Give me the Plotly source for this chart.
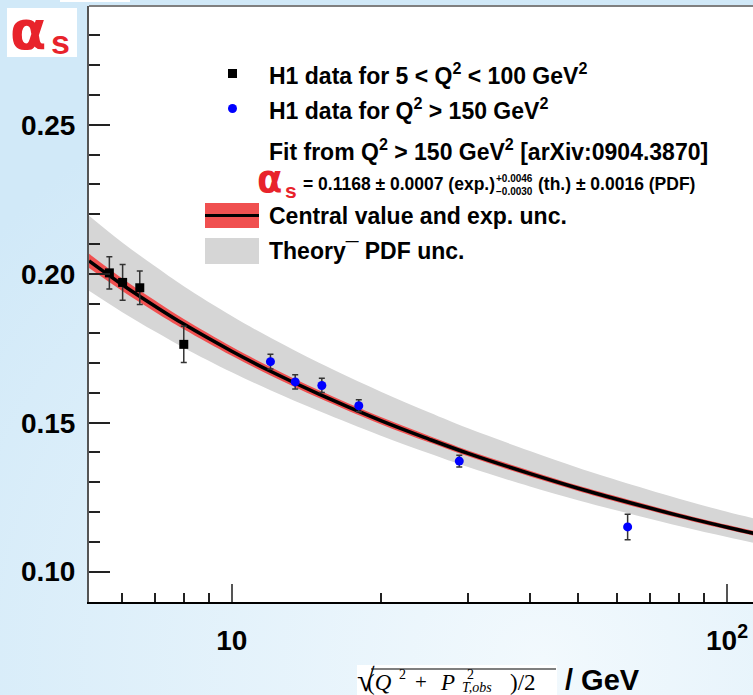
import base64
import plotly.graph_objects as go

# H1 data, 5 < Q^2 < 100 GeV^2
q_low = [5.66, 6.02, 6.52, 8.0]
as_low = [0.2003, 0.1971, 0.1953, 0.1763]
err_low = [0.0054, 0.0060, 0.0056, 0.0061]

# H1 data, Q^2 > 150 GeV^2
q_high = [11.97, 13.43, 15.2, 18.05, 28.8, 63.0]
as_high = [0.1705, 0.1637, 0.1625, 0.1557, 0.1371, 0.1150]
err_high = [0.0025, 0.0024, 0.0024, 0.0020, 0.0020, 0.0043]

# running alpha_s from the Q^2 > 150 GeV^2 fit, with uncertainty bands
q_fit = [5.15, 6, 7, 8, 10, 12, 15, 20, 25, 30, 40, 50, 60, 80, 100, 113]
as_fit = [0.2043, 0.1964, 0.1891, 0.1831, 0.1740, 0.1672, 0.1596, 0.1507,
          0.1445, 0.1397, 0.1329, 0.1280, 0.1243, 0.1188, 0.1149, 0.1129]
exp_up = [0.2067, 0.1985, 0.1910, 0.1848, 0.1755, 0.1686, 0.1609, 0.1519,
          0.1456, 0.1407, 0.1339, 0.1289, 0.1252, 0.1196, 0.1157, 0.1137]
exp_dn = [0.2019, 0.1943, 0.1872, 0.1814, 0.1725, 0.1658, 0.1583, 0.1495,
          0.1434, 0.1387, 0.1319, 0.1271, 0.1234, 0.1180, 0.1141, 0.1121]
th_up = [0.2195, 0.2106, 0.2025, 0.1958, 0.1858, 0.1784, 0.1701, 0.1604,
         0.1535, 0.1481, 0.1405, 0.1349, 0.1307, 0.1245, 0.1201, 0.1179]
th_dn = [0.1943, 0.1872, 0.1806, 0.1752, 0.1669, 0.1608, 0.1539, 0.1456,
         0.1397, 0.1351, 0.1286, 0.1240, 0.1205, 0.1153, 0.1116, 0.1097]

x_ticks = [10, 100]
x_ticktext = ["10", "10<sup>2</sup>"]
x_minor = [6, 7, 8, 9, 20, 30, 40, 50, 60, 70, 80, 90]
y_ticks = [0.10, 0.15, 0.20, 0.25]
y_ticktext = ["0.10", "0.15", "0.20", "0.25"]

W, H = 753, 695
L, R, T, B = 89, 0, 6, 93
PW, PH = W - L - R, H - T - B


def px(x):
    return (x - L) / PW


def py(y):
    return (H - B - y) / PH


SANS = "Liberation Sans, Arial, sans-serif"
SERIF = "Liberation Serif, Times New Roman, serif"
RED = "#e8232b"

fig = go.Figure()

fig.add_trace(go.Scatter(x=q_fit, y=th_up, mode="lines", line=dict(width=0, shape="spline"),
                         hoverinfo="skip", showlegend=False))
fig.add_trace(go.Scatter(x=q_fit, y=th_dn, mode="lines", line=dict(width=0, shape="spline"),
                         fill="tonexty", fillcolor="#d6d6d6", hoverinfo="skip", showlegend=False))
fig.add_trace(go.Scatter(x=q_fit, y=exp_up, mode="lines", line=dict(width=0, shape="spline"),
                         hoverinfo="skip", showlegend=False))
fig.add_trace(go.Scatter(x=q_fit, y=exp_dn, mode="lines", line=dict(width=0, shape="spline"),
                         fill="tonexty", fillcolor="#f05050", hoverinfo="skip", showlegend=False))
fig.add_trace(go.Scatter(x=q_fit, y=as_fit, mode="lines",
                         line=dict(color="black", width=3.5, shape="spline"), showlegend=False))

fig.add_trace(go.Scatter(
    x=q_low, y=as_low, mode="markers",
    marker=dict(symbol="square", size=9, color="black"),
    error_y=dict(type="data", array=err_low, color="#333333", thickness=1.5, width=3),
    showlegend=False))
fig.add_trace(go.Scatter(
    x=q_high, y=as_high, mode="markers",
    marker=dict(symbol="circle", size=9, color="#0000ff"),
    error_y=dict(type="data", array=err_high, color="#333333", thickness=1.5, width=3),
    showlegend=False))

# page background
svg = (
    '<svg xmlns="http://www.w3.org/2000/svg" width="753" height="695">'
    '<defs><radialGradient id="g" cx="0.72" cy="0.95" r="0.95">'
    '<stop offset="0" stop-color="#f2f9fd"/><stop offset="1" stop-color="#d1e9f8"/>'
    '</radialGradient></defs><rect width="753" height="695" fill="url(#g)"/></svg>'
)
bg_src = "data:image/svg+xml;base64," + base64.b64encode(svg.encode()).decode()
fig.add_layout_image(dict(source=bg_src, xref="paper", yref="paper",
                          x=px(0), y=py(0), sizex=W / PW, sizey=H / PH,
                          xanchor="left", yanchor="top", sizing="stretch", layer="below"))

shapes = []
# white plotting area
shapes.append(dict(type="rect", xref="paper", yref="paper", x0=0, x1=1, y0=0, y1=1,
                   fillcolor="white", line=dict(width=0), layer="below"))
# frame top edge
shapes.append(dict(type="line", xref="paper", yref="paper", x0=0, x1=1, y0=1, y1=1,
                   line=dict(color="#808080", width=2)))
# small white strip at the top
shapes.append(dict(type="rect", xref="paper", yref="paper", x0=px(60), x1=px(130),
                   y0=py(2), y1=py(0), fillcolor="white", line=dict(width=0)))
# alpha_s title box
shapes.append(dict(type="rect", xref="paper", yref="paper", x0=px(7), x1=px(77),
                   y0=py(57), y1=py(8), fillcolor="white", line=dict(width=0)))
# x-title formula box
shapes.append(dict(type="rect", xref="paper", yref="paper", x0=px(357), x1=px(557),
                   y0=py(695), y1=py(665), fillcolor="white", line=dict(width=0)))
# square-root bar
shapes.append(dict(type="line", xref="paper", yref="paper", x0=px(371), x1=px(556),
                   y0=py(669), y1=py(669), line=dict(color="black", width=1.2)))

# legend symbols
shapes.append(dict(type="rect", xref="paper", yref="paper", x0=px(228), x1=px(237),
                   y0=py(78), y1=py(69), fillcolor="black", line=dict(width=0)))
shapes.append(dict(type="circle", xref="paper", yref="paper", x0=px(228), x1=px(237),
                   y0=py(113), y1=py(104), fillcolor="#0000ff", line=dict(width=0)))
shapes.append(dict(type="rect", xref="paper", yref="paper", x0=px(205), x1=px(259),
                   y0=py(228), y1=py(203), fillcolor="#f05050", line=dict(width=0)))
shapes.append(dict(type="line", xref="paper", yref="paper", x0=px(205), x1=px(259),
                   y0=py(215.5), y1=py(215.5), line=dict(color="black", width=3)))
shapes.append(dict(type="rect", xref="paper", yref="paper", x0=px(205), x1=px(259),
                   y0=py(264), y1=py(238), fillcolor="#d6d6d6", line=dict(width=0)))

ann = []


def text(x, y, s, size, color="black", family=SANS, bold=True, xanchor="left"):
    ann.append(dict(x=px(x), y=py(y), xref="paper", yref="paper", text=s, showarrow=False,
                    xanchor=xanchor, yanchor="middle", borderpad=0,
                    font=dict(family=family, size=size, color=color,
                              weight="bold" if bold else "normal")))


LEG = 23
text(268, 74, "H1 data for 5 &lt; Q<sup>2</sup> &lt; 100 GeV<sup>2</sup>", LEG)
text(268, 109, "H1 data for Q<sup>2</sup> &gt; 150 GeV<sup>2</sup>", LEG)
text(268, 150, "Fit from Q<sup>2</sup> &gt; 150 GeV<sup>2</sup> [arXiv:0904.3870]", LEG)
text(256, 180, "α", 37, RED, family="DejaVu Sans")
text(284, 190, "s", 21, RED)
text(302, 184, "= 0.1168 ± 0.0007 (exp.)", 17.5)
text(514, 178, "+0.0046", 10, xanchor="center")
text(514, 191, "−0.0030", 10, xanchor="center")
text(537, 184, "(th.) ± 0.0016 (PDF)", 17.5)
text(268, 216, "Central value and exp. unc.", LEG)
text(268, 251, "Theory¯ PDF unc.", LEG)

# y-axis title
text(9, 30, "α", 53, RED, family="DejaVu Sans")
text(50, 42, "s", 34, RED)

# x-axis title
text(356, 680, "√", 32, family=SERIF, bold=False)
text(366, 682, "(<i>Q</i>", 23, family=SERIF, bold=False)
text(402, 674, "2", 14, family=SERIF, bold=False, xanchor="center")
text(421, 682, "+", 21, family=SERIF, bold=False, xanchor="center")
text(439, 682, "<i>P</i>", 23, family=SERIF, bold=False)
text(470, 674, "2", 14, family=SERIF, bold=False, xanchor="center")
text(461, 687, "<i>T,obs</i>", 14, family=SERIF, bold=False)
text(509, 682, ")/2", 23, family=SERIF, bold=False)
text(564, 680, "/ GeV", 29)

fig.update_layout(
    width=W, height=H, autosize=False,
    margin=dict(l=L, r=R, t=T, b=B, pad=0),
    paper_bgcolor="#d9eef9", plot_bgcolor="rgba(0,0,0,0)",
    shapes=shapes, annotations=ann,
    xaxis=dict(
        type="log", range=[0.7117, 2.0525],
        tickvals=x_ticks, ticktext=x_ticktext,
        ticks="inside", ticklen=18, tickwidth=2, tickcolor="#555555",
        showline=True, linecolor="black", linewidth=2,
        showgrid=False, zeroline=False, ticklabelstandoff=12,
        tickfont=dict(family=SANS, size=28, color="black", weight="bold"),
        minor=dict(tickvals=x_minor, ticks="inside", ticklen=9, tickwidth=1.5,
                   tickcolor="#222222", showgrid=False),
    ),
    yaxis=dict(
        range=[0.0898, 0.2899],
        tickvals=y_ticks, ticktext=y_ticktext,
        ticks="inside", ticklen=21, tickwidth=2, tickcolor="#222222",
        showline=True, linecolor="#555555", linewidth=2,
        showgrid=False, zeroline=False, ticklabelstandoff=6,
        tickfont=dict(family=SANS, size=28, color="black", weight="bold"),
        minor=dict(dtick=0.01, tick0=0, ticks="inside", ticklen=11, tickwidth=1.5,
                   tickcolor="#222222", showgrid=False),
    ),
)

fig.write_html("out.html")
